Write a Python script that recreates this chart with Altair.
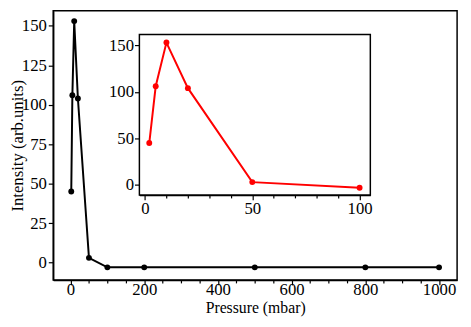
import altair as alt
import pandas as pd

pressure = [2, 5, 10, 20, 50, 100, 200, 500, 800, 1000]
intensity = [45, 106, 153, 104, 3, -3, -3, -3, -3, -3]

inset_pressure = [2, 5, 10, 20, 50, 100]
inset_intensity = [45, 106, 153, 104, 3, -3]

main_df = pd.DataFrame({"p": pressure, "i": intensity})
inset_df = pd.DataFrame({"p": inset_pressure, "i": inset_intensity})

FONT = "Liberation Serif"
FS = 17
common = dict(
    labelFont=FONT, labelFontSize=FS, labelColor="black",
    titleFont=FONT, titleFontSize=FS, titleFontWeight="normal", titleColor="black",
    domainColor="black", domainWidth=1.5, tickColor="black", tickWidth=1.2,
    grid=False, format="d",
)

W, H = 411, 274

# main scales
mx = alt.Scale(domain=[-47, 1049], nice=False, zero=False)
my = alt.Scale(domain=[-11, 159.6], nice=False, zero=False)

x_common = dict(common)
x_common["titleFontSize"] = 16
main_x_axis = alt.Axis(
    values=list(range(0, 1001, 50)),
    labelExpr="datum.value % 200 === 0 ? datum.label : ''",
    tickSize={"condition": {"test": "datum.value % 200 === 0", "value": 5}, "value": 3},
    title="Pressure (mbar)", labelPadding=-3, labelFlush=False,
    titleY=33.5, titleBaseline="alphabetic",
    **x_common,
)
main_y_axis = alt.Axis(
    values=[0, 25, 50, 75, 100, 125, 150], tickSize=5, labelPadding=2,
    title="Intensity (arb.units)", titleX=-36, titleBaseline="middle", titleAngle=270,
    **common,
)

main_line = alt.Chart(main_df).mark_line(color="black", strokeWidth=2).encode(
    x=alt.X("p:Q", scale=mx, axis=main_x_axis),
    y=alt.Y("i:Q", scale=my, axis=main_y_axis),
)
main_pts = alt.Chart(main_df).mark_point(filled=True, color="black", size=36, opacity=1).encode(
    x=alt.X("p:Q", scale=mx, axis=main_x_axis),
    y=alt.Y("i:Q", scale=my, axis=main_y_axis),
)
main = alt.layer(main_line, main_pts)

# inset placement (pixels inside plot area)
IX0, IX1, IY0, IY1 = 87.7, 322.7, 24.3, 187.5
ix_dom = [-2.6, 105]
iy_dom = [-10.8, 161.6]
ix = alt.Scale(domain=ix_dom, range=[IX0, IX1], nice=False, zero=False)
iy = alt.Scale(domain=iy_dom, range=[IY1, IY0], nice=False, zero=False)

inset_x_axis = alt.Axis(
    values=list(range(0, 101, 10)),
    labelExpr="datum.value % 50 === 0 ? datum.label : ''",
    tickSize={"condition": {"test": "datum.value % 50 === 0", "value": 5}, "value": 3},
    orient="bottom", offset=-(H - IY1), title=None, labelPadding=1, labelFlush=False,
    **common,
)
inset_y_axis = alt.Axis(
    values=[0, 50, 100, 150], tickSize=5, orient="left", offset=-IX0,
    title=None, labelPadding=1,
    **common,
)

frame_df = pd.DataFrame({"x0": [ix_dom[0]], "x1": [ix_dom[1]], "y0": [iy_dom[0]], "y1": [iy_dom[1]]})
frame = alt.Chart(frame_df).mark_rect(fill="white", stroke="black", strokeWidth=1.5).encode(
    x=alt.X("x0:Q", scale=ix, axis=inset_x_axis),
    x2="x1:Q",
    y=alt.Y("y0:Q", scale=iy, axis=inset_y_axis),
    y2="y1:Q",
)
inset_line = alt.Chart(inset_df).mark_line(color="#ff0000", strokeWidth=2).encode(
    x=alt.X("p:Q", scale=ix, axis=inset_x_axis),
    y=alt.Y("i:Q", scale=iy, axis=inset_y_axis),
)
inset_pts = alt.Chart(inset_df).mark_point(filled=True, color="#ff0000", size=36, opacity=1).encode(
    x=alt.X("p:Q", scale=ix, axis=inset_x_axis),
    y=alt.Y("i:Q", scale=iy, axis=inset_y_axis),
)
inset = alt.layer(frame, inset_line, inset_pts)

chart = alt.layer(main, inset).resolve_scale(x="independent", y="independent").properties(
    width=W, height=H,
    autosize=alt.AutoSizeParams(type="none"),
    padding={"left": 46, "top": 0, "right": 6, "bottom": 37},
).configure_view(stroke="black", strokeWidth=1.5).configure_axis(
    labelFont=FONT, titleFont=FONT,
)

chart.save("out.html", embed_options={"renderer": "svg", "actions": False})
